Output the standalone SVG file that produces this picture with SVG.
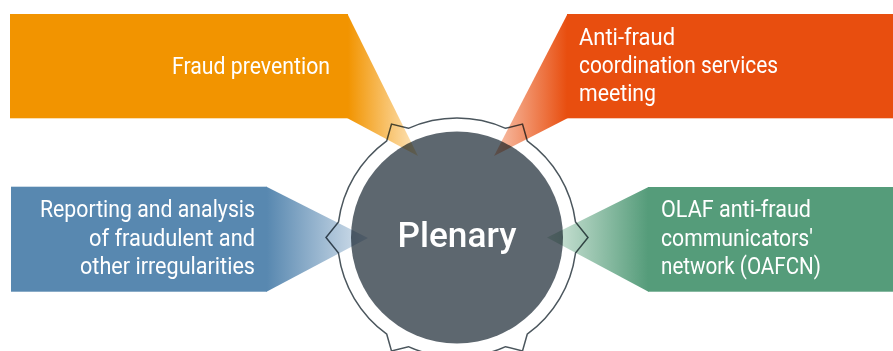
<svg xmlns="http://www.w3.org/2000/svg" width="893" height="351" viewBox="0 0 893 351">
<defs>
<linearGradient id="gOr" gradientUnits="userSpaceOnUse" x1="348" y1="0" x2="418" y2="0">
<stop offset="0" stop-color="#f29400"/><stop offset="1" stop-color="#fde6bf"/></linearGradient>
<linearGradient id="gRd" gradientUnits="userSpaceOnUse" x1="567" y1="0" x2="494" y2="0">
<stop offset="0" stop-color="#e84e0f"/><stop offset="1" stop-color="#f8c4ae"/></linearGradient>
<linearGradient id="gBl" gradientUnits="userSpaceOnUse" x1="267" y1="0" x2="368" y2="0">
<stop offset="0" stop-color="#5888b0"/><stop offset="1" stop-color="#d8e3ee"/></linearGradient>
<linearGradient id="gGr" gradientUnits="userSpaceOnUse" x1="648" y1="0" x2="547" y2="0">
<stop offset="0" stop-color="#559c7a"/><stop offset="1" stop-color="#d5e8dd"/></linearGradient>
<style>
.lbl{font-family:Roboto,"Liberation Sans",sans-serif;font-size:23px;font-weight:400;fill:#ffffff}
.ptr{mix-blend-mode:multiply}
</style>
</defs>
<g id="plenary">
<circle cx="457" cy="237.5" r="106" fill="#5d676f"/>
<path d="M575.48,221.9 A119.5,119.5 0 0 0 527.24,140.82 L522.5,124.05 L505.61,128.33 A119.5,119.5 0 0 0 408.39,128.33 L391.5,124.05 L386.76,140.82 A119.5,119.5 0 0 0 338.52,221.9 L326,237.5 L338.52,253.1 A119.5,119.5 0 0 0 386.76,334.18 L391.5,350.95 L408.39,346.67 A119.5,119.5 0 0 0 505.61,346.67 L522.5,350.95 L527.24,334.18 A119.5,119.5 0 0 0 575.48,253.1 L588,237.5 Z" fill="none" stroke="#4b565d" stroke-width="1.5" stroke-linejoin="miter"/>
<text x="457" y="247" text-anchor="middle" font-family="Roboto,'Liberation Sans',sans-serif" font-size="35" font-weight="500" fill="#ffffff" textLength="119" lengthAdjust="spacingAndGlyphs">Plenary</text>
</g>
<g id="connectors">
<polygon class="ptr" points="347.5,14 418,156 347.5,118.3" fill="url(#gOr)"/>
<polygon class="ptr" points="567.5,14 494,156 567.5,118.3" fill="url(#gRd)"/>
<polygon class="ptr" points="266.5,186.7 368,238 266.5,291.7" fill="url(#gBl)"/>
<polygon class="ptr" points="648.5,187 547,237.5 648.5,291.7" fill="url(#gGr)"/>
</g>
<g id="fraud-prevention">
<rect x="10" y="14" width="338" height="104.3" fill="#f29400"/>
<text class="lbl" x="330" y="74" text-anchor="end" textLength="158" lengthAdjust="spacingAndGlyphs">Fraud prevention</text>
</g>
<g id="afcos">
<rect x="567" y="14" width="326" height="104.3" fill="#e84e0f"/>
<text class="lbl" x="579" y="45" textLength="96" lengthAdjust="spacingAndGlyphs">Anti-fraud</text>
<text class="lbl" x="579" y="73" textLength="199" lengthAdjust="spacingAndGlyphs">coordination services</text>
<text class="lbl" x="579" y="101" textLength="77" lengthAdjust="spacingAndGlyphs">meeting</text>
</g>
<g id="reporting">
<rect x="11" y="186.7" width="256" height="105" fill="#5888b0"/>
<text class="lbl" x="255" y="217" text-anchor="end" textLength="215" lengthAdjust="spacingAndGlyphs">Reporting and analysis</text>
<text class="lbl" x="255" y="245.5" text-anchor="end" textLength="166" lengthAdjust="spacingAndGlyphs">of fraudulent and</text>
<text class="lbl" x="255" y="274" text-anchor="end" textLength="175" lengthAdjust="spacingAndGlyphs">other irregularities</text>
</g>
<g id="oafcn">
<rect x="648" y="187" width="245" height="104.7" fill="#559c7a"/>
<text class="lbl" x="661" y="217" textLength="150" lengthAdjust="spacingAndGlyphs">OLAF anti-fraud</text>
<text class="lbl" x="661" y="245.5" textLength="152" lengthAdjust="spacingAndGlyphs">communicators'</text>
<text class="lbl" x="661" y="274" textLength="160" lengthAdjust="spacingAndGlyphs">network (OAFCN)</text>
</g>
</svg>
